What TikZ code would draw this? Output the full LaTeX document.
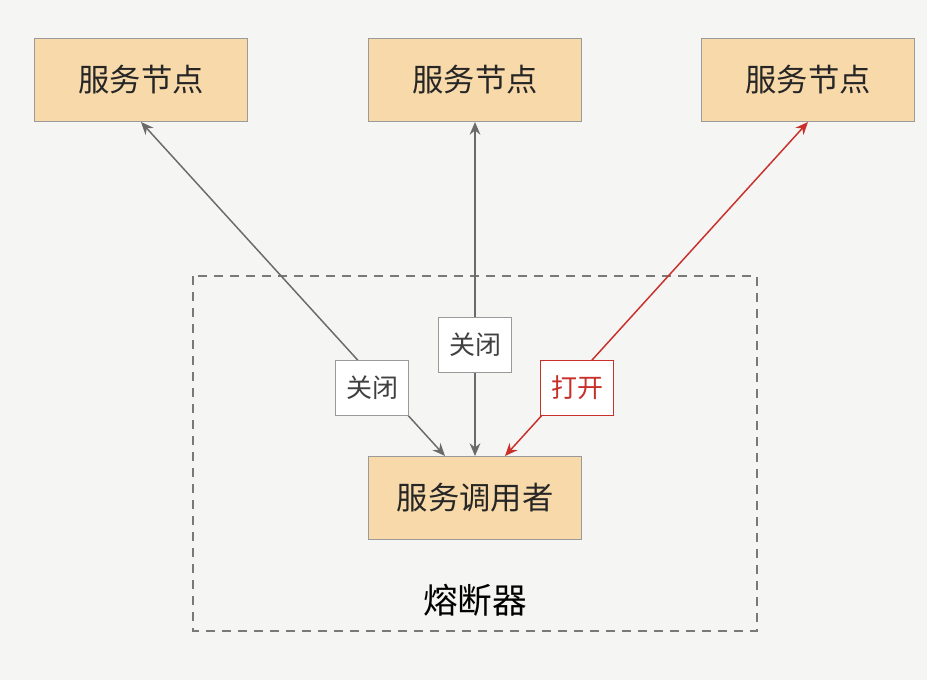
\documentclass[tikz,border=0pt]{standalone}
\usepackage{fontspec}
\setmainfont{Noto Sans CJK SC}
\usepackage{xcolor}
\usetikzlibrary{arrows,arrows.meta,calc}
\usetikzlibrary{positioning}

\definecolor{bgcol}{HTML}{F5F5F4}
\definecolor{boxfill}{HTML}{F8D9AA}
\definecolor{boxline}{HTML}{9A9A9A}
\definecolor{grayline}{HTML}{6A6A6A}
\definecolor{redline}{HTML}{C9302A}

\begin{document}
\begin{tikzpicture}[x=0.75pt,y=-0.75pt,>={Stealth[length=9.5pt,width=8pt]},semithick]
				\tikzstyle{svcbox}=[fill=boxfill, draw=boxline, line width=1pt, text=black!85, minimum width=160pt, minimum height=62pt, inner sep=0pt, font=\fontsize{23.5}{28}\selectfont]
				\tikzstyle{tag}=[fill=white, draw=boxline, line width=1pt, text=black!75, minimum width=55pt, minimum height=41pt, inner sep=0pt, font=\fontsize{19.5}{23}\selectfont]
				\fill[bgcol] (0,0) rectangle (927,680);
				\useasboundingbox (0,0) rectangle (927,680);
				
				% breaker area
				\draw[grayline!90, line width=1pt, dash pattern=on 7pt off 5pt] (193,276) rectangle (757,631);
				\node (fuse) at (475,600) {\fontsize{26}{30}\selectfont 熔断器};
				
						\node[svcbox] (svcA) at (141,80) {服务节点};
						\node[svcbox] (svcB) at (475,80) {服务节点};
						\node[svcbox] (svcC) at (808,80) {服务节点};
						\node[svcbox] (caller) at (475,498) {服务调用者};
						
						\path[<->, grayline, line width=1.1pt]
							(svcA.south) edge ($(caller.north)+(-30,0)$)
							(svcB.south) edge (caller.north);
						\path[<->, redline, line width=1.1pt]
							(svcC.south) edge ($(caller.north)+(30,0)$);
						
						\node[tag] (swA) at (372,388) {关闭};
						\node[tag] (swB) at (475,345) {关闭};
						\node[tag, draw=redline, text=redline] (swC) at (577,388) {打开};
			
 				\end{tikzpicture}
\end{document}
